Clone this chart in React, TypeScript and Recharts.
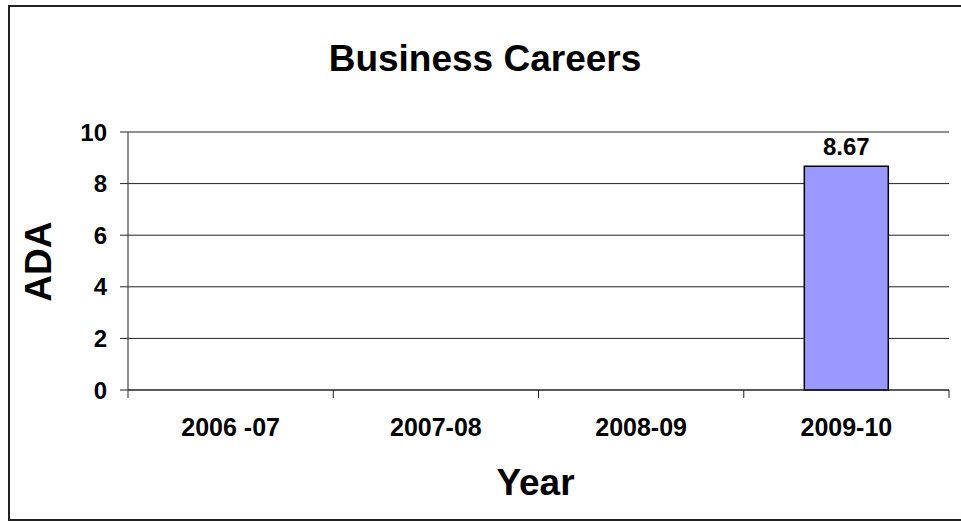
import { Bar, BarChart, CartesianGrid, LabelList, XAxis, YAxis } from 'recharts';

const years = ['2006 -07', '2007-08', '2008-09', '2009-10'];
const ada: (number | null)[] = [null, null, null, 8.67];
const yTicks = [0, 2, 4, 6, 8, 10];

const data = years.map((year, i) => ({ year, ada: ada[i] }));

const FONT = '"Liberation Sans", Arial, Helvetica, sans-serif';
const X_TICK_SIZE = 8;
const X_TICK_MARGIN = 20;

// category label in the middle, tick marks on the band edges (like Excel)
function YearTick(props: any) {
  const { x, y, payload, index, visibleTicksCount } = props;
  const half = payload?.offset ?? 0;
  const axisY = y - X_TICK_SIZE - X_TICK_MARGIN;
  const last = visibleTicksCount ? index === visibleTicksCount - 1 : index === years.length - 1;
  return (
    <g>
      <line x1={x - half} x2={x - half} y1={axisY} y2={axisY + X_TICK_SIZE} stroke="#222" />
      {last && <line x1={x + half} x2={x + half} y1={axisY} y2={axisY + X_TICK_SIZE} stroke="#222" />}
      <text
        x={x}
        y={y}
        dy="0.71em"
        textAnchor="middle"
        fill="#000"
        fontSize={25}
        fontWeight="bold"
        fontFamily={FONT}
      >
        {payload.value}
      </text>
    </g>
  );
}

export default function App() {
  return (
    <div style={{ position: 'absolute', left: 0, top: 0, width: 961, height: 521, background: '#fff', fontFamily: FONT }}>
      <div
        style={{
          position: 'absolute',
          left: 8,
          top: 5,
          width: 953,
          height: 516,
          boxSizing: 'border-box',
          borderLeft: '2px solid #222',
          borderTop: '2px solid #222',
          borderBottom: '2px solid #222',
        }}
      />
      <div
        style={{
          position: 'absolute',
          left: 0,
          top: 40,
          width: 970,
          textAlign: 'center',
          fontSize: 37,
          lineHeight: '37px',
          fontWeight: 'bold',
          color: '#000',
        }}
      >
        Business Careers
      </div>
      <div style={{ position: 'absolute', left: 0, top: 0 }}>
        <BarChart
          width={961}
          height={521}
          data={data}
          margin={{ top: 132, right: 12, bottom: 0, left: 0 }}
          barCategoryGap="29.5%"
        >
          <CartesianGrid vertical={false} stroke="#222" strokeWidth={1} yAxisId="left" />
          <XAxis
            dataKey="year"
            height={131}
            stroke="#222"
            tickLine={false}
            tickSize={X_TICK_SIZE}
            tickMargin={X_TICK_MARGIN}
            interval={0}
            tick={<YearTick />}
            label={{
              content: (props: any) => {
                const vb = props.viewBox || {};
                return (
                  <text
                    x={vb.x + vb.width / 2 - 3}
                    y={vb.y + 105}
                    textAnchor="middle"
                    fontSize={37}
                    fontWeight="bold"
                    fontFamily={FONT}
                    fill="#000"
                  >
                    Year
                  </text>
                );
              },
            }}
          />
          <YAxis
            yAxisId="left"
            width={128}
            domain={[0, 10]}
            ticks={yTicks}
            tickSize={8}
            tickMargin={13}
            stroke="#222"
            tick={{ fill: '#000', fontSize: 24, fontWeight: 'bold', fontFamily: FONT }}
            label={{
              content: (props: any) => {
                const vb = props.viewBox || {};
                const bx = vb.x + 51.5;
                const cy = vb.y + vb.height / 2 + 0.7;
                return (
                  <text
                    x={bx}
                    y={cy}
                    transform={`rotate(-90, ${bx}, ${cy})`}
                    textAnchor="middle"
                    fontSize={37}
                    fontWeight="bold"
                    fontFamily={FONT}
                    fill="#000"
                  >
                    ADA
                  </text>
                );
              },
            }}
          />
          <YAxis yAxisId="right" orientation="right" width={0} tick={false} tickLine={false} stroke="#222" domain={[0, 10]} />
          <Bar
            dataKey="ada"
            yAxisId="left"
            fill="#9999FF"
            stroke="#000"
            strokeWidth={1.5}
            isAnimationActive={false}
          >
            <LabelList
              dataKey="ada"
              position="top"
              offset={11}
              formatter={(v: any) => (v == null ? '' : Number(v).toFixed(2))}
              style={{ fill: '#000', fontSize: 24, fontWeight: 'bold', fontFamily: FONT }}
            />
          </Bar>
        </BarChart>
      </div>
    </div>
  );
}
